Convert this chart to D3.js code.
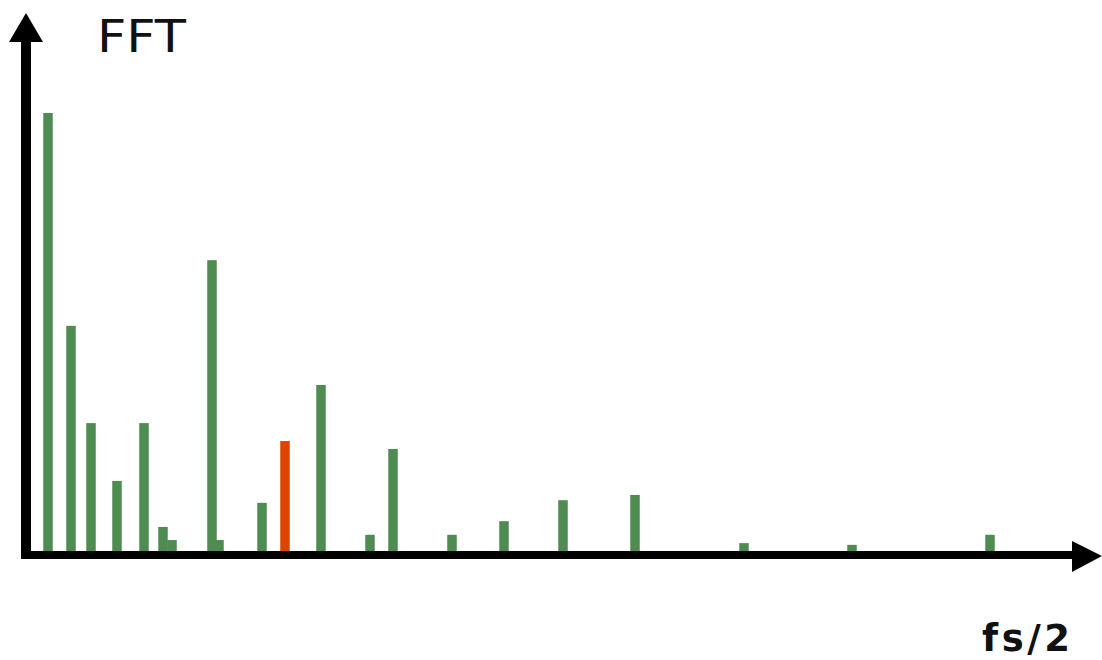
<!DOCTYPE html>
<html>
<head>
<meta charset="utf-8">
<script src="https://cdn.jsdelivr.net/npm/d3@7"></script>
<style>
  html, body { margin: 0; padding: 0; background: #fff; }
  svg { display: block; }
  .title { font-family: "DejaVu Sans", sans-serif; font-size: 45px; fill: #111; }
  .xlabel { font-family: "DejaVu Sans", sans-serif; font-size: 37px; font-weight: bold; fill: #111; }
</style>
</head>
<body>
<script>
// frequency bin of each spectral line (0 .. 1000 = fs/2 region)
const freqs = [22, 45, 65, 91, 118, 137, 146, 186, 193, 236, 259, 295, 344, 367, 426, 478, 537, 609, 718, 826, 964];
// magnitude (relative, largest = 100)
const mags = [100, 51.4, 29.2, 16, 29.2, 5.5, 2.5, 66.4, 2.5, 11, 25.1, 37.9, 3.7, 23.3, 3.7, 6.8, 11.6, 12.8, 1.8, 1.4, 3.7];
// which line is highlighted
const highlight = [false, false, false, false, false, false, false, false, false, false, true, false, false, false, false, false, false, false, false, false, false];

const width = 1102, height = 660;
const baseY = 555;

const x = d3.scaleLinear().domain([0, 1000]).range([26, 1026]);
const y = d3.scaleLinear().domain([0, 100]).range([551, 113]);

const svg = d3.select('body')
  .append('svg')
  .attr('width', width)
  .attr('height', height);

const data = freqs.map((f, i) => ({ f, m: mags[i], hot: highlight[i] }));

const barW = 9.5;

svg.append('g')
  .selectAll('rect')
  .data(data)
  .enter()
  .append('rect')
  .attr('x', d => x(d.f) - barW / 2)
  .attr('y', d => y(d.m))
  .attr('width', barW)
  .attr('height', d => y(0) - y(d.m))
  .attr('fill', d => d.hot ? '#dc4400' : '#4e8c52');

// axes with arrow heads
svg.append('line')
  .attr('x1', 21).attr('x2', 1075)
  .attr('y1', baseY).attr('y2', baseY)
  .attr('stroke', '#000')
  .attr('stroke-width', 8);

svg.append('path')
  .attr('d', `M1072,541 L1102,556 L1072,572 Z`)
  .attr('fill', '#000');

svg.append('line')
  .attr('x1', 26).attr('x2', 26)
  .attr('y1', 559).attr('y2', 40)
  .attr('stroke', '#000')
  .attr('stroke-width', 10);

svg.append('path')
  .attr('d', `M9,42 L26,13 L43,42 Z`)
  .attr('fill', '#000');

svg.append('text')
  .attr('class', 'title')
  .attr('x', 97)
  .attr('y', 52)
  .attr('textLength', 89)
  .attr('lengthAdjust', 'spacingAndGlyphs')
  .text('FFT');

svg.append('text')
  .attr('class', 'xlabel')
  .attr('x', 982)
  .attr('y', 651)
  .attr('textLength', 88)
  .attr('lengthAdjust', 'spacing')
  .text('fs/2');
</script>
</body>
</html>
